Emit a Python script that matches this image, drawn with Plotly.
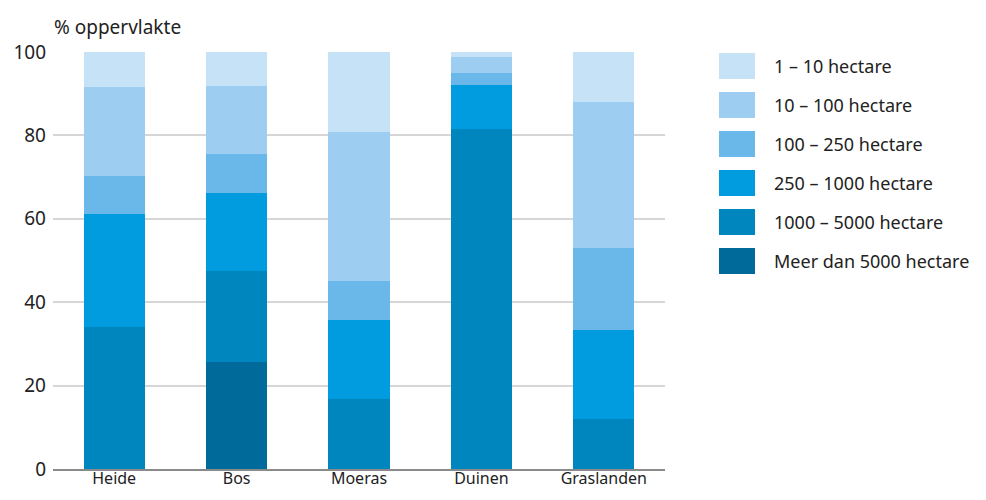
import plotly.graph_objects as go

categories = ["Heide", "Bos", "Moeras", "Duinen", "Graslanden"]

# segment values (percent of area)
s_meer5000 = [0.0, 25.7, 0.0, 0.0, 0.0]
s_1000_5000 = [34.0, 21.9, 16.9, 81.6, 12.1]
s_250_1000 = [27.1, 18.6, 18.8, 10.5, 21.2]
s_100_250 = [9.1, 9.3, 9.3, 2.9, 19.6]
s_10_100 = [21.5, 16.4, 35.7, 3.8, 35.2]
s_1_10 = [8.3, 8.1, 19.3, 1.2, 11.9]

series_names = ["Meer dan 5000 hectare", "1000 – 5000 hectare", "250 – 1000 hectare",
                "100 – 250 hectare", "10 – 100 hectare", "1 – 10 hectare"]
series_values = [s_meer5000, s_1000_5000, s_250_1000, s_100_250, s_10_100, s_1_10]
colors = ["#006B9B", "#0086BF", "#009CDF", "#6AB8EA", "#9DCDF1", "#C6E2F7"]

y_ticks = [0, 20, 40, 60, 80, 100]

FONT = "Noto Sans"

fig = go.Figure()
for name, vals, col in zip(series_names, series_values, colors):
    fig.add_trace(go.Bar(x=categories, y=vals, name=name, marker=dict(color=col, line=dict(width=0)),
                         showlegend=False))

# page has an 8px body margin; work in window coordinates and subtract it
O = 8
W, H = 986 - 2 * O, 500 - 2 * O
px0, px1, py0, py1 = 53, 665, 52, 469  # plot area in window coords
L, T = px0 - O, py0 - O
R = W - (px1 - O)
B = H - (py1 - O)
pw, ph = px1 - px0, py1 - py0


def xp(wx):
    return (wx - px0) / pw


def yp(wy):
    return (py1 - wy) / ph


fig.update_layout(
    width=W, height=H,
    margin=dict(l=L, r=R, t=T, b=B, autoexpand=False),
    barmode="stack", bargap=0.5,
    plot_bgcolor="white", paper_bgcolor="white",
    font=dict(family=FONT, size=18, color="#222222"),
    xaxis=dict(showgrid=False, showline=True, linecolor="#8a8a8a", linewidth=2,
               ticks="", tickfont=dict(size=16), ticklabelstandoff=-6,
               fixedrange=True, automargin=False),
    yaxis=dict(range=[0, 100], tickvals=y_ticks, showgrid=True, gridcolor="#d6d6d6", gridwidth=2,
               zeroline=False, ticks="", ticklabelstandoff=6, tickfont=dict(size=19),
               fixedrange=True, automargin=False),
)

# axis title at top-left
fig.add_annotation(xref="paper", yref="paper", x=xp(52), y=yp(27), text="% oppervlakte",
                   showarrow=False, xanchor="left", yanchor="middle", font=dict(size=19))

# custom legend (top to bottom: light to dark)
legend_order = list(range(len(series_names)))[::-1]
for i, idx in enumerate(legend_order):
    cy = 66 + 39 * i
    fig.add_shape(type="rect", xref="paper", yref="paper",
                  x0=xp(719), x1=xp(755), y0=yp(cy + 13), y1=yp(cy - 13),
                  fillcolor=colors[idx], line=dict(width=0))
    fig.add_annotation(xref="paper", yref="paper", x=xp(772), y=yp(cy),
                       text=series_names[idx], showarrow=False, xanchor="left", yanchor="middle",
                       font=dict(size=18))

fig.write_html("out.html")
